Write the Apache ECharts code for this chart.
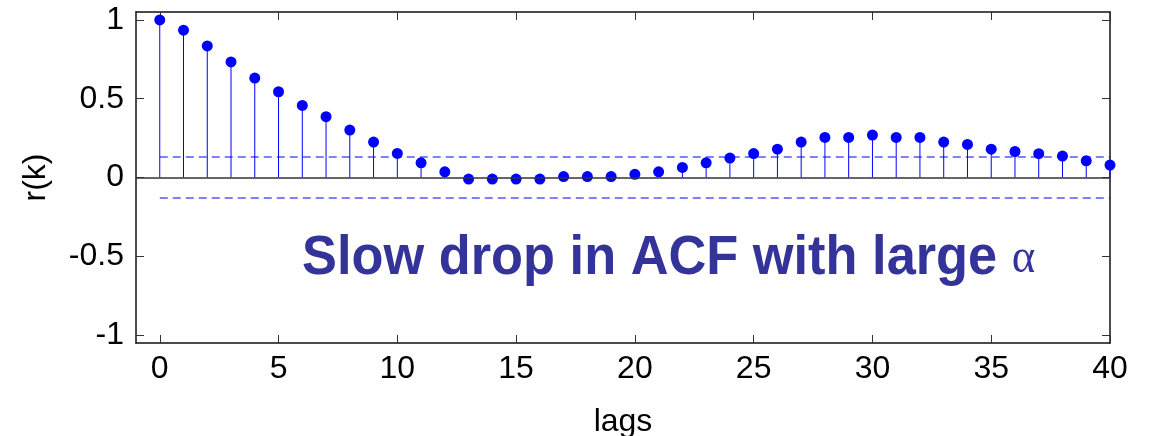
<!DOCTYPE html>
<html>
<head>
<meta charset="utf-8">
<script src="https://cdn.jsdelivr.net/npm/echarts@6/dist/echarts.min.js"></script>
<style>
  html, body { margin: 0; padding: 0; background: #fff; }
  #chart { width: 1149px; height: 436px; }
</style>
</head>
<body>
<div id="chart"></div>
<script>
// lag numbers and sample autocorrelation
const lags = [0, 1, 2, 3, 4, 5, 6, 7, 8, 9, 10, 11, 12, 13, 14, 15, 16, 17, 18, 19, 20,
  21, 22, 23, 24, 25, 26, 27, 28, 29, 30, 31, 32, 33, 34, 35, 36, 37, 38, 39, 40];
const acf = [1.0, 0.935, 0.835, 0.733, 0.631, 0.544, 0.457, 0.386, 0.301, 0.225, 0.153,
  0.093, 0.036, -0.01, -0.01, -0.01, -0.01, 0.006, 0.006, 0.006, 0.02,
  0.036, 0.064, 0.093, 0.123, 0.152, 0.18, 0.225, 0.254, 0.254, 0.269,
  0.254, 0.254, 0.225, 0.21, 0.18, 0.165, 0.151, 0.136, 0.106, 0.079];
const bound = 0.13;
const xTicks = [0, 5, 10, 15, 20, 25, 30, 35, 40];
const yTicks = [-1, -0.5, 0, 0.5, 1];
const note = "Slow drop in ACF with large ";

const chart = echarts.init(document.getElementById("chart"));

const points = lags.map((k, i) => [k, acf[i]]);
const firstLag = lags[0];
const lastLag = lags[lags.length - 1];

const tickStyle = { inside: true, length: 8, lineStyle: { color: "#333", width: 1 } };
const lineStyle = { color: "#111", width: 1.5 };

// dashed significance band, drawn as plain two-point lines
function boundLine(v) {
  return {
    type: "line",
    data: [[firstLag, v], [lastLag, v]],
    showSymbol: false,
    symbol: "none",
    silent: true,
    lineStyle: { color: "#0000ff", width: 1.2, type: [8, 5] },
    itemStyle: { color: "#0000ff" },
    z: 3,
  };
}

const option = {
  animation: false,
  grid: { left: 136, right: 39, top: 12, bottom: 93, outerBoundsMode: "none", containLabel: false },
  xAxis: [
    {
      type: "value",
      min: -1,
      max: 40,
      name: "lags",
      nameLocation: "middle",
      nameGap: 63,
      nameTextStyle: { fontFamily: "Liberation Sans", fontSize: 32, color: "#000" },
      axisLine: { onZero: false, lineStyle },
      axisTick: { ...tickStyle, customValues: xTicks },
      axisLabel: {
        customValues: xTicks,
        fontFamily: "Liberation Sans",
        fontSize: 32,
        color: "#000",
        margin: 10,
      },
      splitLine: { show: false },
    },
    {
      type: "value",
      position: "top",
      min: -1,
      max: 40,
      axisLine: { onZero: false, lineStyle },
      axisTick: { ...tickStyle, customValues: xTicks },
      axisLabel: { show: false },
      splitLine: { show: false },
    },
  ],
  yAxis: [
    {
      type: "value",
      min: -1.05,
      max: 1.05,
      name: "r(k)",
      nameLocation: "middle",
      nameGap: 84,
      nameTextStyle: { fontFamily: "Liberation Sans", fontSize: 32, color: "#000" },
      axisLine: { show: true, onZero: false, lineStyle },
      axisTick: { show: true, ...tickStyle, customValues: yTicks },
      axisLabel: {
        customValues: yTicks,
        fontFamily: "Liberation Sans",
        fontSize: 32,
        color: "#000",
        margin: 12,
      },
      splitLine: { show: false },
    },
    {
      type: "value",
      position: "right",
      min: -1.05,
      max: 1.05,
      axisLine: { show: true, onZero: false, lineStyle },
      axisTick: { show: true, ...tickStyle, customValues: yTicks },
      axisLabel: { show: false },
      splitLine: { show: false },
    },
  ],
  series: [
    {
      type: "custom",
      name: "stems",
      data: points,
      renderItem: function (params, api) {
        const base = api.coord([api.value(0), 0]);
        const tip = api.coord([api.value(0), api.value(1)]);
        return {
          type: "line",
          shape: { x1: base[0], y1: base[1], x2: tip[0], y2: tip[1] },
          style: { stroke: "#0000ff", lineWidth: 1 },
        };
      },
      markLine: {
        silent: true,
        symbol: "none",
        label: { show: false },
        lineStyle: { color: "#333", width: 1.5, type: "solid" },
        data: [{ yAxis: 0 }],
      },
      z: 2,
    },
    boundLine(bound),
    boundLine(-bound),
    {
      type: "scatter",
      name: "acf",
      data: points,
      symbol: "circle",
      symbolSize: 11,
      itemStyle: { color: "#0000ff", opacity: 1 },
      z: 4,
    },
  ],
  graphic: [
    {
      type: "text",
      x: 302,
      y: 259,
      scaleX: 0.935,
      style: {
        text: "{a|" + note + "}{b|α}",
        verticalAlign: "middle",
        align: "left",
        rich: {
          a: { fontFamily: "Liberation Sans", fontWeight: "bold", fontSize: 56, fill: "#333399", color: "#333399" },
          b: { fontFamily: "Liberation Serif", fontSize: 48, fill: "#333399", color: "#333399" },
        },
      },
    },
  ],
};

chart.setOption(option);
</script>
</body>
</html>
